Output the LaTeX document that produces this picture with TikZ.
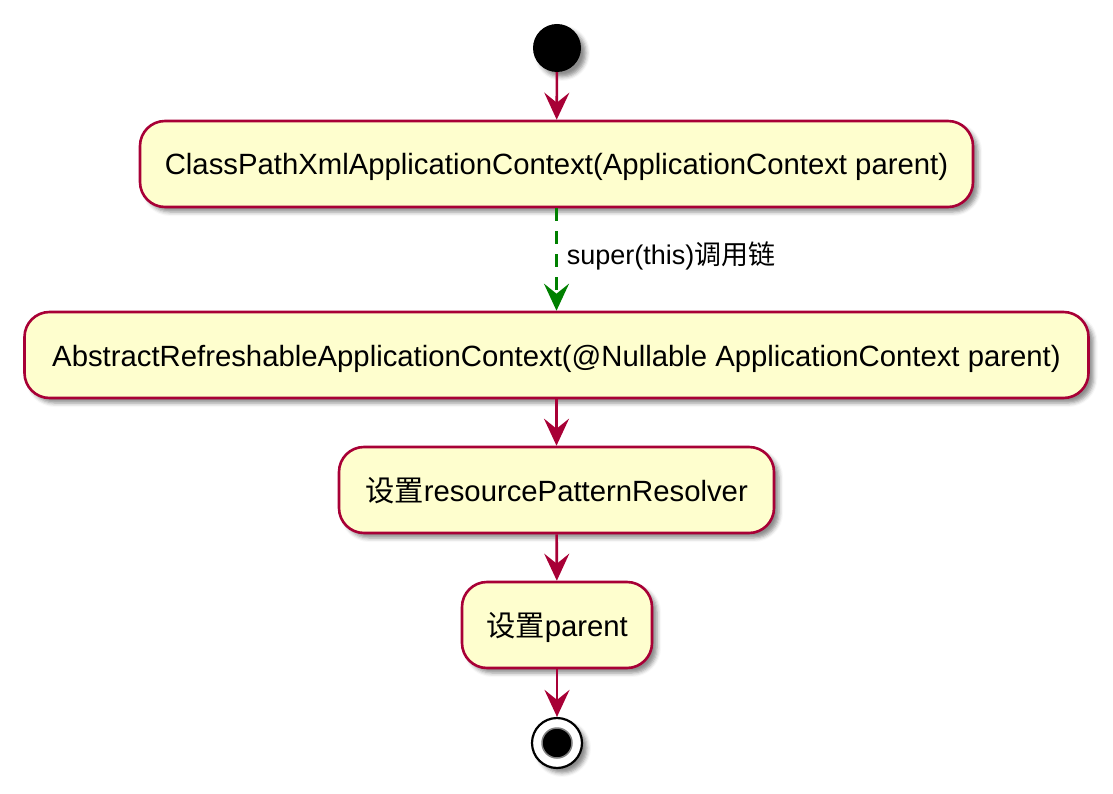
\documentclass[tikz,border=0pt]{standalone}
\usepackage{fontspec}
\setmainfont{Liberation Sans}
\newfontfamily\cjk{Noto Sans CJK SC}
\usetikzlibrary{arrows.meta,shadows.blur}
\definecolor{umlred}{HTML}{A80036}
\definecolor{umlfill}{HTML}{FEFECE}
\definecolor{umlgreen}{HTML}{008000}
\tikzset{
  shad/.style={blur shadow={shadow xshift=5pt,shadow yshift=-5pt,shadow blur radius=4pt,shadow opacity=45}},
  actbox/.style={draw=umlred,line width=2.6pt,fill=umlfill,rounded corners=25pt,minimum height=86pt,inner sep=0pt,text height=32pt,text depth=10pt,shad,font=\fontsize{29.3}{33}\selectfont},
  flow/.style={draw=umlred,line width=2.6pt,-{Stealth[length=27pt,width=25pt,inset=10pt]}},
  dflow/.style={draw=umlgreen,line width=2.6pt,dash pattern=on 13pt off 10pt,-{Stealth[length=27pt,width=25pt,inset=10pt]}},
  lbl/.style={font=\fontsize{27}{30}\selectfont,inner sep=0pt,anchor=west}
}
\begin{document}
\begin{tikzpicture}[x=1pt,y=-1pt]
\useasboundingbox (0,0) rectangle (1113,794);
\node[circle,fill=black,minimum size=48pt,inner sep=0pt,shad] (start) at (557,48) {};
\node[actbox,minimum width=833pt] (b1) at (556.5,164) {ClassPathXmlApplicationContext(ApplicationContext parent)};
\node[actbox,minimum width=1064pt] (b2) at (556.5,355) {AbstractRefreshableApplicationContext(@Nullable ApplicationContext parent)};
\node[actbox,minimum width=435pt] (b3) at (556.5,490) {{\cjk 设置}resourcePatternResolver};
\node[actbox,minimum width=190pt] (b4) at (557,625) {{\cjk 设置}parent};
\node[circle,draw=black,line width=2.2pt,fill=white,minimum size=50pt,inner sep=0pt,shad] (end) at (557,743) {};
\node[circle,fill=black,draw=gray,line width=1.5pt,minimum size=30pt,inner sep=0pt] (endin) at (557,743) {};
\draw[flow] (start) -- (b1);
\draw[dflow] (b1) -- (b2) node[midway,lbl,xshift=9pt,yshift=4pt] (l1) {super(this){\cjk 调用链}};
\draw[flow] (b2) -- (b3);
\draw[flow] (b3) -- (b4);
\draw[flow] (b4) -- (end);
\end{tikzpicture}
\end{document}
